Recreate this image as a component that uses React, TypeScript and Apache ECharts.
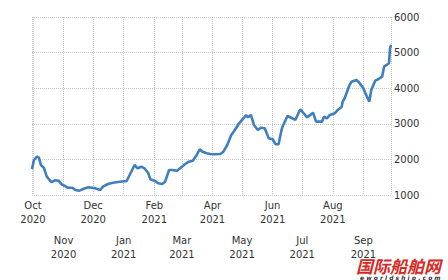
import React, { useEffect, useRef } from "react";
import * as echarts from "echarts";

const dates: string[] = [
  "2020-09-30", "2020-10-02", "2020-10-05", "2020-10-07", "2020-10-09", "2020-10-12",
  "2020-10-15", "2020-10-20", "2020-10-23", "2020-10-27", "2020-10-30", "2020-11-02",
  "2020-11-05", "2020-11-10", "2020-11-13", "2020-11-17", "2020-11-20", "2020-11-26",
  "2020-11-30", "2020-12-03", "2020-12-08", "2020-12-11", "2020-12-16", "2020-12-21",
  "2020-12-28", "2021-01-04", "2021-01-07", "2021-01-12", "2021-01-15", "2021-01-19",
  "2021-01-22", "2021-01-26", "2021-01-28", "2021-02-01", "2021-02-05", "2021-02-09",
  "2021-02-12", "2021-02-16", "2021-02-19", "2021-02-24", "2021-03-01", "2021-03-04",
  "2021-03-08", "2021-03-12", "2021-03-16", "2021-03-19", "2021-03-22", "2021-03-26",
  "2021-03-30", "2021-04-02", "2021-04-09", "2021-04-12", "2021-04-16", "2021-04-20",
  "2021-04-23", "2021-04-28", "2021-05-03", "2021-05-05", "2021-05-07", "2021-05-10",
  "2021-05-13", "2021-05-17", "2021-05-20", "2021-05-24", "2021-05-28", "2021-06-01",
  "2021-06-04", "2021-06-07", "2021-06-10", "2021-06-11", "2021-06-16", "2021-06-21",
  "2021-06-24", "2021-06-29", "2021-07-06", "2021-07-12", "2021-07-15", "2021-07-21",
  "2021-07-23", "2021-07-26", "2021-07-29", "2021-08-03", "2021-08-06", "2021-08-10",
  "2021-08-11", "2021-08-13", "2021-08-18", "2021-08-20", "2021-08-25", "2021-08-27",
  "2021-09-01", "2021-09-03", "2021-09-07", "2021-09-09", "2021-09-13", "2021-09-16",
  "2021-09-20", "2021-09-22", "2021-09-27", "2021-09-28", "2021-09-29",
];

const values: number[] = [
  1731, 1983, 2076, 2050, 1843, 1767,
  1514, 1357, 1413, 1402, 1300, 1261,
  1205, 1205, 1140, 1121, 1160, 1216,
  1205, 1188, 1140, 1233, 1309, 1346,
  1374, 1393, 1562, 1843, 1750, 1795,
  1750, 1610, 1441, 1402, 1329, 1309,
  1374, 1703, 1703, 1683, 1795, 1863,
  1936, 1964, 2124, 2284, 2217, 2172,
  2152, 2144, 2152, 2217, 2405, 2686,
  2798, 3015, 3172, 3248, 3183, 3248,
  2967, 2827, 2891, 2874, 2593, 2565,
  2425, 2425, 2827, 2919, 3220, 3155,
  3108, 3408, 3183, 3313, 3060, 3060,
  3200, 3155, 3248, 3295, 3389, 3481,
  3622, 3717, 4091, 4184, 4232, 4184,
  3998, 3858, 3622, 3950, 4212, 4251,
  4324, 4605, 4700, 5122, 5215,
];

const monthNames: string[] = ["Jan", "Feb", "Mar", "Apr", "May", "Jun", "Jul", "Aug", "Sep", "Oct", "Nov", "Dec"];
const yTicks = { min: 1000, max: 6000, interval: 1000 };
const xRange = { start: "2020-09-30", end: "2021-09-29" };

const toUTC = (s: string) => {
  const [y, m, d] = s.split("-").map(Number);
  return Date.UTC(y, m - 1, d);
};

const FONT = "DejaVu Sans";

export default function App() {
  const ref = useRef<HTMLDivElement>(null);
  useEffect(() => {
    if (!ref.current) return;
    const chart = echarts.init(ref.current, null, { renderer: "svg" });
    const data = dates.map((d, i) => [toUTC(d), values[i]]);
    chart.setOption({
      animation: false,
      useUTC: true,
      backgroundColor: "#ffffff",
      grid: { left: 32, right: 57, top: 17, bottom: 85, containLabel: false },
      xAxis: {
        type: "time",
        min: toUTC(xRange.start),
        max: toUTC(xRange.end),
        splitNumber: 12,
        axisLine: { show: false },
        axisTick: { show: false },
        splitLine: { show: true, lineStyle: { type: "dotted", color: "#c8c8c8", width: 1 } },
        axisLabel: {
          margin: 3,
          color: "#333",
          fontFamily: FONT,
          fontSize: 10,
          hideOverlap: false,
          formatter: (val: number) => {
            const d = new Date(val);
            const m = d.getUTCMonth();
            const y = d.getUTCFullYear();
            const idx = (y - 2020) * 12 + m - 9;
            const name = monthNames[m];
            return idx % 2 === 0
              ? `{t|${name}}\n{t|${y}}`
              : `{g| }\n{t|${name}}\n{t|${y}}`;
          },
          rich: {
            t: { fontFamily: FONT, fontSize: 10, color: "#333", lineHeight: 14 },
            g: { fontSize: 10, lineHeight: 35, height: 35 },
          },
        },
      },
      yAxis: {
        type: "value",
        position: "right",
        min: yTicks.min,
        max: yTicks.max,
        interval: yTicks.interval,
        axisLine: { show: false },
        axisTick: { show: false },
        splitLine: { show: true, lineStyle: { type: "dotted", color: "#c8c8c8", width: 1 } },
        axisLabel: {
          margin: 3,
          color: "#333",
          fontFamily: FONT,
          fontSize: 10,
          formatter: (v: number) => String(v),
        },
      },
      series: [
        {
          type: "line",
          data,
          showSymbol: false,
          symbol: "none",
          lineStyle: { color: "#3f7fbf", width: 2.6 },
          smooth: false,
        },
      ],
      graphic: [
        {
          type: "text",
          left: 356,
          top: 257,
          style: {
            text: "国际船舶网",
            font: 'italic bold 17px "Noto Sans CJK SC"',
            fill: "#d42a1f",
          },
        },
        {
          type: "text",
          left: 360,
          top: 274,
          style: {
            text: "e w o r l d s h i p . c o m",
            font: 'italic bold 6px "DejaVu Sans"',
            fill: "#333",
          },
        },
      ],
    });
    return () => chart.dispose();
  }, []);
  return (
    <div
      ref={ref}
      style={{ position: "fixed", left: 0, top: 0, width: 448, height: 280, background: "#fff" }}
    />
  );
}
